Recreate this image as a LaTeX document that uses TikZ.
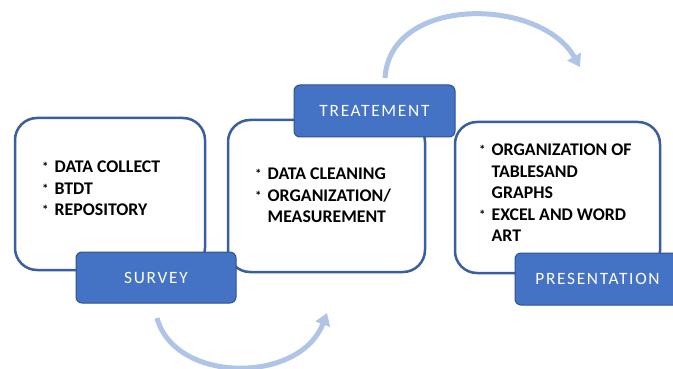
\documentclass[tikz,border=0pt]{standalone}
\usepackage{fontspec}
\setmainfont{Carlito}
\newfontfamily\lblfont[LetterSpace=10]{Carlito}
\usetikzlibrary{arrows.meta}
\definecolor{boxline}{HTML}{3A5F9E}
\definecolor{lblfill}{HTML}{4472C4}
\definecolor{lbledge}{HTML}{2F528F}
\definecolor{arrowc}{HTML}{AFC4E6}
\newcommand\bitem{\makebox[12.5pt][l]{\raisebox{1pt}{\fontsize{13}{13}\selectfont *}}}
\newcommand\bindent{\hspace*{12.5pt}}
\begin{document}
\begin{tikzpicture}[x=1pt,y=-1pt,
  panel/.style={draw=boxline,line width=2.5pt,rounded corners=22pt,fill=white,inner sep=0pt},
  lbl/.style={draw=lbledge,line width=1pt,fill=lblfill,rounded corners=6pt,text=white,
    font=\lblfont\fontsize{17.3}{20}\selectfont,inner sep=0pt},
  listtext/.style={font=\bfseries\fontsize{17.8}{21.5}\selectfont,align=left,anchor=north west,
    inner sep=0pt,text=black},
  flow/.style={draw=arrowc,line width=5pt,-{Triangle[length=12pt,width=15pt]}}]
\useasboundingbox (0,0) rectangle (673,369);
\fill[white] (0,0) rectangle (673,369);
% panels
\node[panel,minimum width=190pt,minimum height=152pt] (p1) at (110,194) {};
\node[panel,minimum width=197pt,minimum height=152pt] (p2) at (326.5,196) {};
\node[panel,minimum width=205pt,minimum height=151pt] (p3) at (557.5,197.5) {};
% labels
\node[lbl,minimum width=160pt,minimum height=51pt] (l1) at (156,277.5) {SURVEY};
\node[lbl,minimum width=161pt,minimum height=52pt] (l2) at (374.5,111) {TREATEMENT};
\node[lbl,minimum width=165pt,minimum height=52pt] (l3) at (597.5,279) {PRESENTATION};
% lists
\node[listtext] (t1) at (42,157.5) {\strut\bitem DATA COLLECT\\ \bitem BTDT\\ \bitem REPOSITORY};
\node[listtext] (t2) at (255,164.5) {\strut\bitem DATA CLEANING\\ \bitem ORGANIZATION/\\ \bindent MEASUREMENT};
\node[listtext] (t3) at (479,140.5) {\strut\bitem ORGANIZATION OF\\ \bindent TABLESAND\\ \bindent GRAPHS\\ \bitem EXCEL AND WORD\\ \bindent ART};
% arrows
\coordinate (a1s) at (157,318);
\coordinate (a1e) at (327,313);
\draw[flow] (a1s) .. controls (175,384) and (300,384) .. (a1e);
\coordinate (a2s) at (385,78);
\coordinate (a2e) at (580,67);
\draw[flow] (a2s) .. controls (390,-5) and (540,-3) .. (a2e);
\end{tikzpicture}
\end{document}
